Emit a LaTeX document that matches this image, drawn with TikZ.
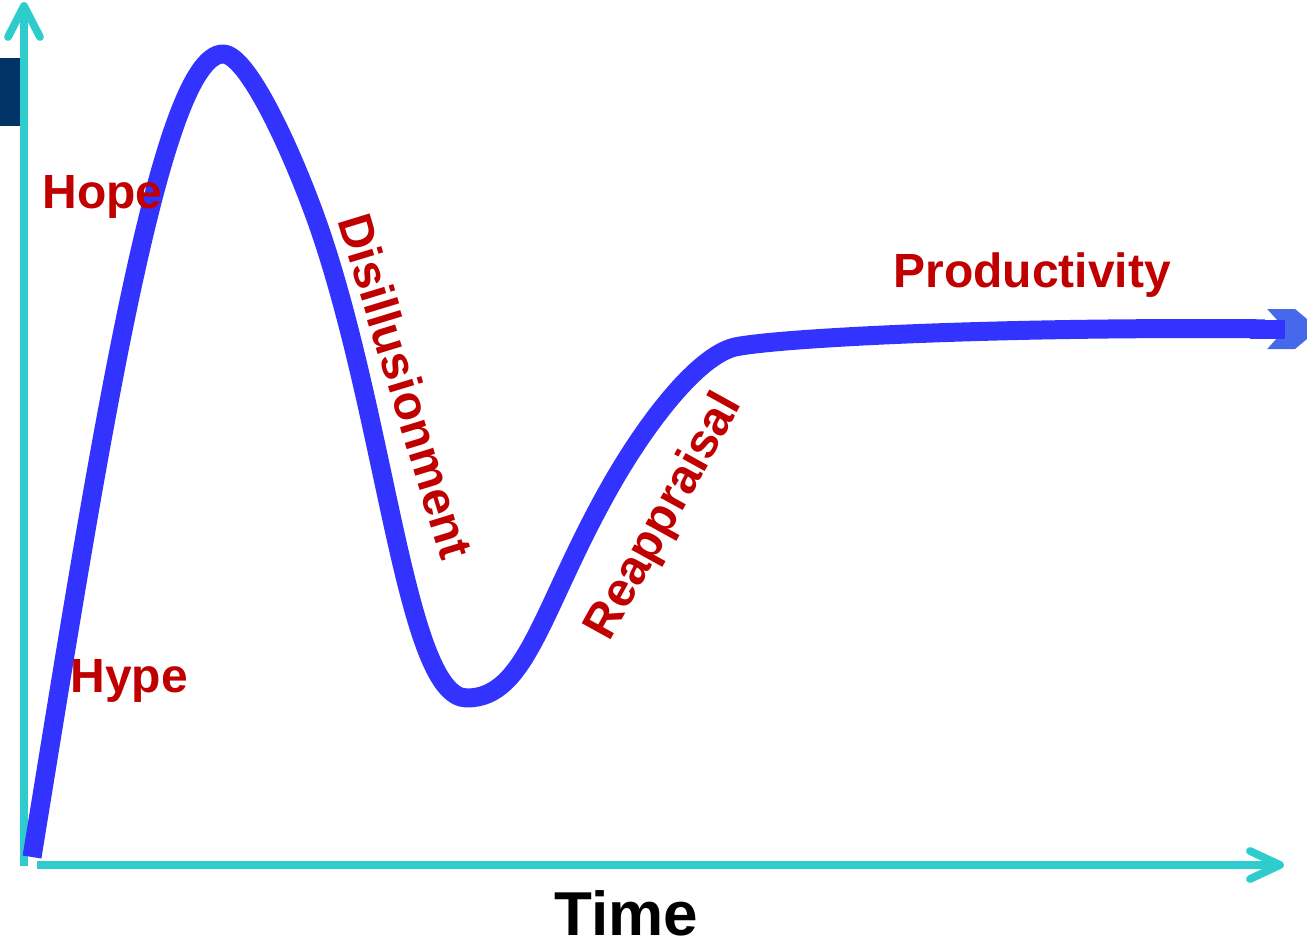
\documentclass[tikz,border=0pt]{standalone}
\usepackage{fontspec}
\setmainfont{Liberation Sans}
\definecolor{axiscyan}{RGB}{46,204,204}
\definecolor{trendblue}{RGB}{51,51,255}
\definecolor{tipblue}{RGB}{70,105,235}
\definecolor{phasered}{RGB}{192,0,0}
\definecolor{tabnavy}{RGB}{0,51,102}

\begin{document}
\begin{tikzpicture}[x=0.5pt,y=-0.5pt]
\tikzstyle{axis}=[draw=axiscyan,line width=3.9pt]
\tikzstyle{barb}=[axis,line cap=round,line join=round]
\tikzstyle{trend}=[draw=trendblue,line width=9.5pt,line join=round]
\tikzstyle{phase}=[text=phasered,font=\fontsize{24}{28}\selectfont\bfseries,inner sep=0pt]
\useasboundingbox (0,0) rectangle (1307,942);
\fill[tabnavy] (0,58) rectangle (20,126);
% axes
\coordinate (yfoot) at (24,866);
\coordinate (ytip) at (24,6);
\coordinate (xfoot) at (37,865);
\coordinate (xtip) at (1280,865);
\draw[axis] (yfoot) -- (ytip);
\draw[barb] (ytip) +(-16,31) -- (ytip) -- +(16,31);
\draw[axis] (xfoot) -- (xtip);
\draw[barb] (xtip) +(-30,-14) -- (xtip) -- +(-30,14);
% the cycle
\coordinate (start) at (32,857);
\coordinate (peak) at (223,54);
\coordinate (fall) at (322,236);
\coordinate (trough) at (467,698);
\coordinate (rise) at (610,487);
\coordinate (knee) at (735,347);
\coordinate (cend) at (1285,329);
\draw[trend] (start) .. controls (96,465) and (159,54) .. (peak)
  .. controls (250,54) and (300,170) .. (fall)
  .. controls (388,434) and (407,698) .. (trough)
  .. controls (527,698) and (542,607) .. (rise)
  .. controls (645,425) and (697,356) .. (knee)
  .. controls (778,338) and (1000,326) .. (cend);
\fill[tipblue] (cend) ++(-18,-20) -- ++(28,0) -- ++(24,20) -- ++(-24,20)
  -- ++(-28,0) -- cycle;
\fill[white] (cend) -- ++(-18,-20) -- ++(-2,0) -- ++(0,40) -- ++(2,0) -- cycle;
\draw[trend] (1250,329) -- (cend);
% labels
\node[phase,anchor=base west] (hope) at (42,208) {Hope};
\node[phase,anchor=base west] (hype) at (70,692) {Hype};
\node[phase,rotate=-73] (disill) at (406,386) {Disillusionment};
\node[phase,rotate=61] (reapp) at (665,517) {Reappraisal};
\node[phase,anchor=base west] (prod) at (893,287) {Productivity};
\node[anchor=base west,inner sep=0pt,font=\fontsize{31}{36}\selectfont\bfseries] (time) at (554,935) {Time};
\end{tikzpicture}
\end{document}
